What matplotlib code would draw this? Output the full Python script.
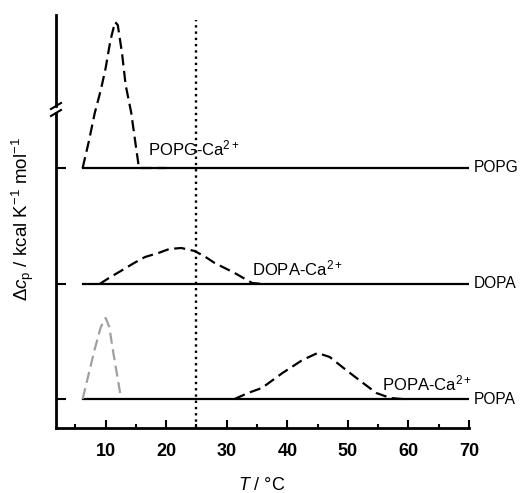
import numpy as np
import matplotlib.pyplot as plt

plt.rcParams["font.family"] = ["Liberation Sans", "DejaVu Sans"]
plt.rcParams["mathtext.fontset"] = "custom"
plt.rcParams["mathtext.rm"] = "Liberation Sans"
plt.rcParams["mathtext.it"] = "Liberation Sans:italic"
plt.rcParams["mathtext.bf"] = "Liberation Sans:bold"

# vertical offsets of the stacked thermograms (arbitrary units)
offset_popa = 29
offset_dopa = 144
offset_popg = 260

# lipid-only baselines (flat)
base_T = [6.3, 70.0]

# POPG-Ca2+ peak (plotted above the axis break)
popg_ca_T = [6.2, 7.2, 8.2, 9.2, 10.0, 10.8, 11.55, 12.0, 12.7, 13.3, 14.2,
             14.8, 15.5, 20.0]
popg_ca_cp = [0, 26, 55, 78, 100, 128, 146, 143, 115, 83, 56, 30, 0, 0]

# DOPA-Ca2+ broad transition
dopa_ca_T = [9.0, 10.8, 12.5, 14.7, 16.5, 18.7, 20.5, 22.5, 24.7, 26.5, 28.0,
             31.3, 34.2, 36.0]
dopa_ca_cp = [0, 7, 13, 21, 27, 31, 35, 36, 33, 27, 21, 11, 1, 0]

# POPA (grey) low-temperature peak
popa_T = [6.2, 7.2, 8.2, 9.2, 10.0, 10.6, 11.3, 12.0, 12.5]
popa_cp = [0, 25, 50, 72, 81, 72, 45, 20, 2]

# POPA-Ca2+ transition
popa_ca_T = [31.3, 33.5, 35.8, 39.2, 42.5, 45.0, 47.0, 49.7, 52.5, 54.7, 57.0, 59.0]
popa_ca_cp = [0, 6, 11, 26, 39, 46, 42, 29, 16, 6, 1, 0]

fig = plt.figure(figsize=(5.2, 4.93), dpi=100)
ax = fig.add_axes([56 / 520, 1 - 428 / 493, 413 / 520, 413 / 493])

lw = 1.6
dash = (0, (5, 2.5))

# baselines
for off in (offset_popa, offset_dopa, offset_popg):
    ax.plot(base_T, [off, off], color="black", lw=lw)

ax.plot(popg_ca_T, np.array(popg_ca_cp) + offset_popg, color="black", lw=lw, ls=dash)
ax.plot(dopa_ca_T, np.array(dopa_ca_cp) + offset_dopa, color="black", lw=lw, ls=dash)
ax.plot(popa_T, np.array(popa_cp) + offset_popa, color="#a0a0a0", lw=lw, ls=dash)
ax.plot(popa_ca_T, np.array(popa_ca_cp) + offset_popa, color="black", lw=lw, ls=dash)

# 25 degC marker
ax.axvline(25, ymin=0, ymax=(428 - 20) / 413, color="black", lw=1.7, ls=":")

ax.set_xlim(1.8, 70)
ax.set_ylim(0, 413)

# labels on the curves
fs = 12
ax.text(17.0, 273, r"POPG-Ca$^{2+}$", fontsize=fs, va="baseline")
ax.text(34.2, 153, r"DOPA-Ca$^{2+}$", fontsize=fs, va="baseline")
ax.text(55.6, 38, r"POPA-Ca$^{2+}$", fontsize=fs, va="baseline")
for name, off in (("POPG", offset_popg), ("DOPA", offset_dopa), ("POPA", offset_popa)):
    ax.text(70.8, off, name, fontsize=11.2, va="center", clip_on=False)

# axes styling
for s in ("top", "right", "left"):
    ax.spines[s].set_visible(False)
ax.spines["bottom"].set_linewidth(2)

# broken left axis
lo, hi = (428 - 113) / 413, (428 - 106) / 413
ax.plot([0, 0], [0, lo], transform=ax.transAxes, color="black", lw=2, clip_on=False)
ax.plot([0, 0], [hi, 1], transform=ax.transAxes, color="black", lw=2, clip_on=False)
d = 5 / 413
for yb in (lo, hi):
    ax.plot([-d, d], [yb - 0.6 * d, yb + 0.6 * d], transform=ax.transAxes,
            color="black", lw=1.5, clip_on=False)

ax.set_xticks([10, 20, 30, 40, 50, 60, 70])
ax.set_xticks([5, 15, 25, 35, 45, 55, 65], minor=True)
ax.tick_params(axis="x", which="major", direction="in", length=6, width=1.5,
               pad=11, labelsize=13)
ax.tick_params(axis="x", which="minor", direction="in", length=3, width=1.5)
for lab in ax.get_xticklabels():
    lab.set_fontweight("bold")

ax.set_yticks([offset_popa, offset_dopa, offset_popg])
ax.set_yticklabels([])
ax.tick_params(axis="y", direction="in", length=7, width=1.5)

ax.set_xlabel(r"$T$ / °C", fontsize=13)
ax.set_ylabel(r"$\Delta c_\mathrm{p}$ / kcal K$^{-1}$ mol$^{-1}$", fontsize=13.5)
ax.yaxis.set_label_coords(-20 / 413, (428 - 219) / 413)
ax.xaxis.set_label_coords((262 - 56) / 413, -(477 - 428) / 413)

fig.savefig("out.png", dpi=100)
